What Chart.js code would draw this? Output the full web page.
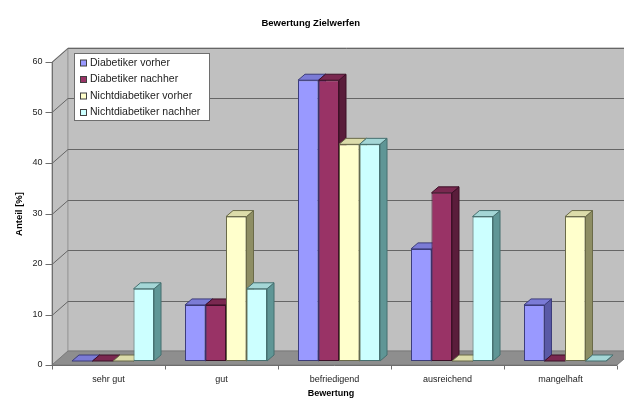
<!DOCTYPE html>
<html>
<head>
<meta charset="utf-8">
<script src="https://cdn.jsdelivr.net/npm/chart.js@4.4.1/dist/chart.umd.min.js"></script>
<style>
  html, body { margin: 0; padding: 0; background: #ffffff; }
  #wrap { width: 624px; height: 400px; position: relative; }
</style>
</head>
<body>
<div id="wrap"><canvas id="chart"></canvas></div>
<script>
// Rating categories and the share (%) of each group per rating
const categories = ['sehr gut', 'gut', 'befriedigend', 'ausreichend', 'mangelhaft'];
const seriesNames = ['Diabetiker vorher', 'Diabetiker nachher', 'Nichtdiabetiker vorher', 'Nichtdiabetiker nachher'];
const diabetikerVorher       = [0, 11.1, 55.6, 22.2, 11.1];
const diabetikerNachher      = [0, 11.1, 55.6, 33.3, 0];
const nichtdiabetikerVorher  = [0, 28.6, 42.9, 0, 28.6];
const nichtdiabetikerNachher = [14.3, 14.3, 42.9, 28.6, 0];
const yTicks = [0, 10, 20, 30, 40, 50, 60];

const chartTitle = 'Bewertung Zielwerfen';
const xTitle = 'Bewertung';
const yTitle = 'Anteil [%]';

// Face colours for the extruded columns: front, top, side, edge
const palette = [
  { front: '#9999ff', top: '#7b7bd6', side: '#5a5aa6', edge: '#3c3c7a' },
  { front: '#993366', top: '#7a2850', side: '#5a1d3b', edge: '#3d1027' },
  { front: '#ffffcc', top: '#dcdcaa', side: '#8e8e64', edge: '#6a6a48' },
  { front: '#ccffff', top: '#a4d6d6', side: '#5f9696', edge: '#467070' }
];

const FONT = "'Liberation Sans', Arial, sans-serif";

// Oblique offsets (px) relative to the plane the columns stand in
const FRONT = { dx: -4.5, dy: 4 };
const BACK = { dx: 11.5, dy: -10 };
const DEPTH = { dx: 7, dy: -6 };

function poly(ctx, pts, fill, stroke) {
  ctx.beginPath();
  ctx.moveTo(pts[0][0], pts[0][1]);
  for (let i = 1; i < pts.length; i++) ctx.lineTo(pts[i][0], pts[i][1]);
  ctx.closePath();
  if (fill) { ctx.fillStyle = fill; ctx.fill(); }
  if (stroke) { ctx.strokeStyle = stroke; ctx.lineWidth = 1; ctx.stroke(); }
}

// Walls, floor, grid and the front axes
const boxPlugin = {
  id: 'box3d',
  beforeDatasetsDraw(chart) {
    const { ctx, chartArea: a, scales: { x, y } } = chart;
    const L = a.left, R = a.right;
    const y0 = y.getPixelForValue(yTicks[0]);
    const yMax = y.getPixelForValue(yTicks[yTicks.length - 1]);
    ctx.save();
    // side wall
    poly(ctx, [[L + FRONT.dx, y0 + FRONT.dy], [L + FRONT.dx, yMax + FRONT.dy],
               [L + BACK.dx, yMax + BACK.dy], [L + BACK.dx, y0 + BACK.dy]], '#c0c0c0', '#9a9a9a');
    // back wall
    poly(ctx, [[L + BACK.dx, yMax + BACK.dy], [R + BACK.dx, yMax + BACK.dy],
               [R + BACK.dx, y0 + BACK.dy], [L + BACK.dx, y0 + BACK.dy]], '#c0c0c0', '#9a9a9a');
    // floor
    poly(ctx, [[L + FRONT.dx, y0 + FRONT.dy], [R + FRONT.dx, y0 + FRONT.dy],
               [R + BACK.dx, y0 + BACK.dy], [L + BACK.dx, y0 + BACK.dy]], '#8e8e8e', '#7a7a7a');
    // gridlines across side and back wall
    ctx.strokeStyle = '#666666';
    ctx.lineWidth = 1;
    yTicks.forEach(v => {
      if (v === yTicks[0]) return;
      const py = Math.round(y.getPixelForValue(v)) + 0.5;
      ctx.beginPath();
      ctx.moveTo(L + FRONT.dx, py + FRONT.dy);
      ctx.lineTo(L + BACK.dx, py + BACK.dy);
      ctx.lineTo(R + BACK.dx, py + BACK.dy);
      ctx.stroke();
    });
    // front value axis with tick marks
    ctx.strokeStyle = '#6e6e6e';
    const ax = Math.round(L + FRONT.dx) + 0.5;
    ctx.beginPath();
    ctx.moveTo(ax, yMax + FRONT.dy);
    ctx.lineTo(ax, y0 + FRONT.dy);
    yTicks.forEach(v => {
      const py = Math.round(y.getPixelForValue(v) + FRONT.dy) + 0.5;
      ctx.moveTo(ax - 7, py);
      ctx.lineTo(ax, py);
    });
    // front category axis with tick marks between categories
    const fy = Math.round(y0 + FRONT.dy) + 0.5;
    ctx.moveTo(L + FRONT.dx, fy);
    ctx.lineTo(R + FRONT.dx, fy);
    const step = (R - L) / categories.length;
    for (let i = 0; i <= categories.length; i++) {
      const px = Math.round(L + FRONT.dx + i * step) + 0.5;
      ctx.moveTo(px, fy);
      ctx.lineTo(px, fy + 4);
    }
    ctx.stroke();

    // top and side faces of every column, left to right, so the
    // front faces drawn next hide what lies behind neighbouring columns
    for (let i = 0; i < categories.length; i++) {
      chart.data.datasets.forEach((ds, d) => {
        const el = chart.getDatasetMeta(d).data[i];
        const c = palette[d];
        const left = el.x - el.width / 2, right = el.x + el.width / 2;
        const top = el.y, base = el.base;
        poly(ctx, [[right, top], [right + DEPTH.dx, top + DEPTH.dy],
                   [right + DEPTH.dx, base + DEPTH.dy], [right, base]], c.side, c.edge);
        poly(ctx, [[left, top], [right, top], [right + DEPTH.dx, top + DEPTH.dy],
                   [left + DEPTH.dx, top + DEPTH.dy]], c.top, c.edge);
      });
    }
    ctx.restore();
  },
  afterDraw(chart) {
    const { ctx } = chart;
    ctx.save();
    // axis titles
    ctx.fillStyle = '#000';
    ctx.font = 'bold 9px ' + FONT;
    ctx.textAlign = 'center';
    ctx.textBaseline = 'middle';
    ctx.fillText(xTitle, 331, 394);
    ctx.translate(19, 214);
    ctx.rotate(-Math.PI / 2);
    ctx.font = 'bold 9.5px ' + FONT;
    ctx.fillText(yTitle, 0, 0);
    ctx.restore();

    // legend box
    ctx.save();
    const bx = 74.5, by = 53.5, bw = 135, bh = 67;
    ctx.fillStyle = '#ffffff';
    ctx.fillRect(bx, by, bw, bh);
    ctx.strokeStyle = '#6e6e6e';
    ctx.lineWidth = 1;
    ctx.strokeRect(bx, by, bw, bh);
    ctx.font = '10.5px ' + FONT;
    ctx.textBaseline = 'middle';
    ctx.textAlign = 'left';
    chart.data.datasets.forEach((ds, d) => {
      const cy = 63 + d * 16.5;
      ctx.fillStyle = ds.backgroundColor;
      ctx.fillRect(80.5, cy - 3, 6, 6);
      ctx.strokeStyle = '#404040';
      ctx.strokeRect(80.5, cy - 3, 6, 6);
      ctx.fillStyle = '#222222';
      ctx.fillText(ds.label, 90, cy);
    });
    ctx.restore();
  }
};

const seriesValues = [diabetikerVorher, diabetikerNachher, nichtdiabetikerVorher, nichtdiabetikerNachher];

new Chart(document.getElementById('chart'), {
  type: 'bar',
  data: {
    labels: categories,
    datasets: seriesNames.map((name, d) => ({
      label: name,
      data: seriesValues[d],
      backgroundColor: palette[d].front,
      borderColor: palette[d].edge,
      borderWidth: 1,
      borderSkipped: false
    }))
  },
  options: {
    responsive: true,
    maintainAspectRatio: false,
    animation: false,
    devicePixelRatio: 1,
    layout: { padding: { left: 0, right: 2.5, top: 0, bottom: 0 } },
    datasets: { bar: { categoryPercentage: 0.726, barPercentage: 1 } },
    plugins: {
      legend: { display: false },
      tooltip: { enabled: false },
      title: {
        display: true,
        text: chartTitle,
        color: '#000',
        font: { family: FONT, size: 9.5, weight: 'bold' },
        padding: { top: 18, bottom: 28.6 }
      }
    },
    scales: {
      x: {
        grid: { display: false, drawTicks: false },
        border: { display: false },
        ticks: { color: '#222222', font: { family: FONT, size: 9 }, padding: 13, labelOffset: -4.5, maxRotation: 0 },
        afterFit(scale) { scale.height = 39; }
      },
      y: {
        min: 0,
        max: 60,
        grid: { display: false, drawTicks: false },
        border: { display: false },
        afterBuildTicks(scale) { scale.ticks = yTicks.map(v => ({ value: v })); },
        ticks: { color: '#222222', font: { family: FONT, size: 9 }, padding: 14, labelOffset: 4 },
        afterFit(scale) { scale.width = 56.5; }
      }
    }
  },
  plugins: [boxPlugin]
});
</script>
</body>
</html>
